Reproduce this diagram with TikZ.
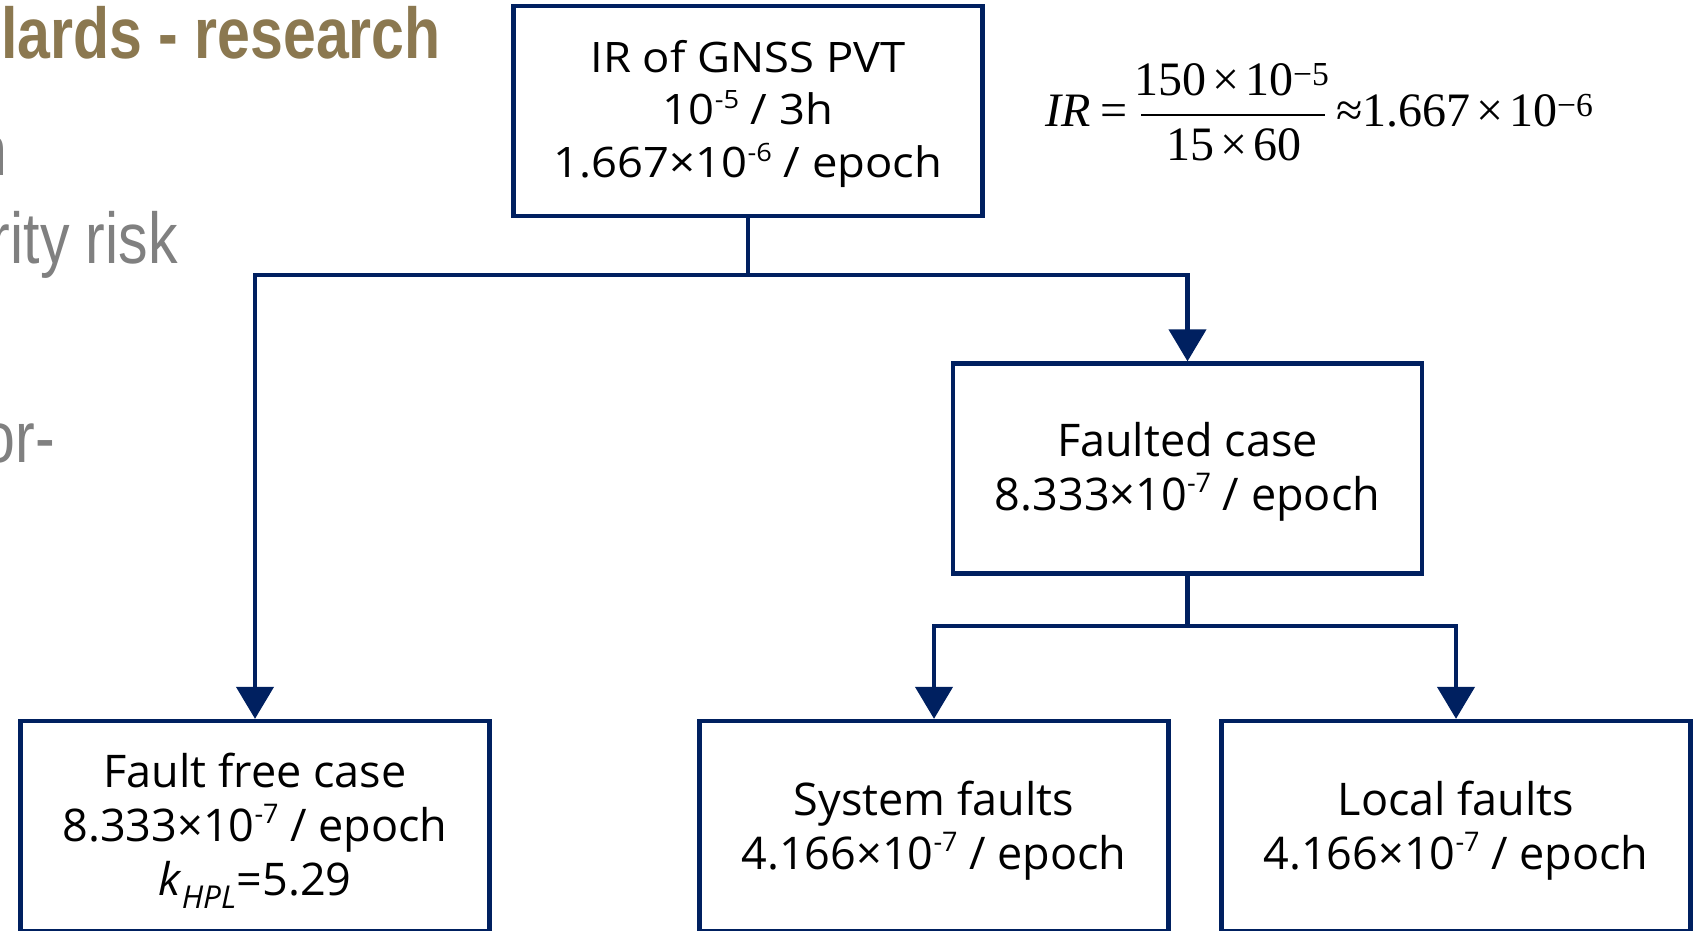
\documentclass[tikz,border=0pt]{standalone}
\usepackage{fontspec}
\usepackage{graphicx}
\usetikzlibrary{arrows.meta}
\setmainfont{Open Sans}
\newfontfamily\boxfont{Open Sans}
\newfontfamily\topfont[FakeStretch=1.08]{Open Sans}
\newfontfamily\titlefont[FakeStretch=0.82]{Liberation Sans}
\newfontfamily\serfont{Liberation Serif}
\definecolor{navy}{RGB}{0,32,96}
\definecolor{olivetxt}{RGB}{139,120,80}
\definecolor{graytxt}{RGB}{128,128,128}
\newcommand{\tms}{\hspace{0.12em}×\hspace{0.12em}}
\newcommand{\sups}[1]{\raisebox{0.38em}{\scalebox{0.6}{#1}}}
\newcommand{\lines}[1]{\begin{tabular}[t]{@{}c@{}}#1\end{tabular}}
\begin{document}
\begin{tikzpicture}[x=1pt,y=-1pt,
  box/.style={draw=navy,line width=4.3pt,minimum width=469pt,minimum height=210pt,inner sep=0pt,text height=0pt,font=\boxfont\fontsize{45}{54}\selectfont},
  conn/.style={draw=navy,line width=4.3pt},
  arr/.style={-{Triangle[width=37pt,length=32pt]}},
  bgtitle/.style={inner sep=0pt,anchor=base east,text=olivetxt,font=\titlefont\bfseries\fontsize{72}{80}\selectfont},
  bggray/.style={inner sep=0pt,anchor=base east,text=graytxt,font=\titlefont\fontsize{72}{80}\selectfont},
  ftxt/.style={inner sep=0pt,font=\serfont\fontsize{48}{54}\selectfont}
]
\useasboundingbox (0,0) rectangle (1693,930);
\clip (0,0) rectangle (1693,930);
% background slide text
\node[bgtitle] (title) at (441,58) {lards - research};
\node[bggray] (g1) at (8,175) {n};
\node[bggray] (g2) at (178,263) {rity risk};
\node[bggray] (g3) at (55,462) {or-};
% boxes
\node[box,text depth=78pt,font=\topfont\fontsize{42}{52.5}\selectfont] (top) at (748,111.25)
  {\lines{IR of GNSS PVT\\10\sups{-5} / 3h\\1.667×10\sups{-6} / epoch}};
\node[box,text depth=25pt] (fc) at (1187.5,468.5) {\lines{Faulted case\\8.333×10\sups{-7} / epoch}};
\node[box,text depth=78pt,font=\boxfont\fontsize{45}{54}\selectfont] (ff) at (255,826)
  {\lines{Fault free case\\8.333×10\sups{-7} / epoch\\\textit{k}\textsubscript{\textit{HPL}}=5.29}};
\node[box,text depth=22pt] (sf) at (934,826) {\lines{System faults\\4.166×10\sups{-7} / epoch}};
\node[box,text depth=22pt] (lf) at (1456,826) {\lines{Local faults\\4.166×10\sups{-7} / epoch}};
% connectors
\coordinate (j1) at (748,275);
\coordinate (j2) at (1187.5,626);
\draw[conn] (top.south) -- (j1);
\draw[conn,arr] (j1) -| (ff.north);
\draw[conn,arr] (j1) -| (fc.north);
\draw[conn] (fc.south) -- (j2);
\draw[conn,arr] (j2) -| (sf.north);
\draw[conn,arr] (j2) -| (lf.north);
% formula
\node[ftxt,anchor=base west] (irl) at (1045,126) {\textit{IR}\hspace{0.2em}=};
\node[ftxt,anchor=base] (num) at (1232,95) {150\tms10\textsuperscript{−5}};
\node[ftxt,anchor=base] (den) at (1234,160) {15\tms60};
\draw[line width=2pt] (1141,115) -- (1325,115);
\node[ftxt,anchor=base west] (rhs) at (1336,126) {≈1.667\tms10\textsuperscript{−6}};
\end{tikzpicture}
\end{document}
